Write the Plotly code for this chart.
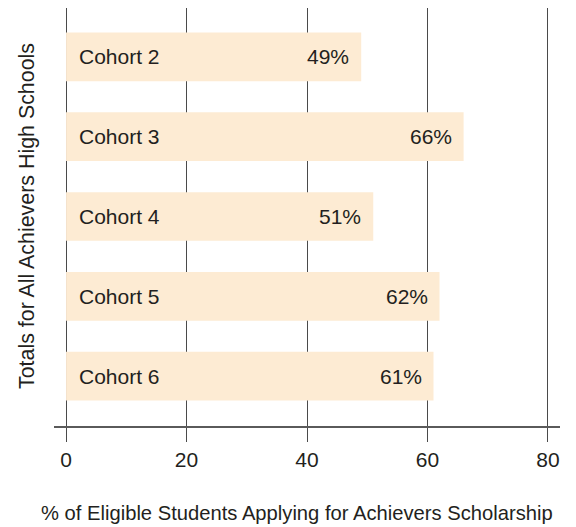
import plotly.graph_objects as go

cohorts = ["Cohort 2", "Cohort 3", "Cohort 4", "Cohort 5", "Cohort 6"]
values = [49, 66, 51, 62, 61]
x_ticks = [0, 20, 40, 60, 80]
x_title = "% of Eligible Students Applying for Achievers Scholarship"
y_title = "Totals for All Achievers High Schools"

FONT = "Liberation Sans, Arial, sans-serif"
TXT = "#231f20"
FL = 21

fig = go.Figure()
fig.add_trace(go.Bar(
    x=values, y=cohorts, orientation="h",
    marker=dict(color="#FDEBD3", line=dict(width=0)),
    width=0.61, hoverinfo="skip",
))

for c, v in zip(cohorts, values):
    fig.add_annotation(x=0, y=c, text=c, xanchor="left", xshift=11,
                       showarrow=False, font=dict(family=FONT, size=FL, color=TXT))
    fig.add_annotation(x=v, y=c, text=f"{v}%", xanchor="right", xshift=-10,
                       showarrow=False, font=dict(family=FONT, size=FL, color=TXT))

fig.add_annotation(xref="paper", yref="paper", x=0, y=0.5, xshift=-27, yshift=1,
                   text=y_title, textangle=-90, showarrow=False,
                   xanchor="center", yanchor="middle",
                   font=dict(family=FONT, size=21.4, color=TXT))
fig.add_annotation(xref="paper", yref="paper", x=0.5, y=0, xshift=-10, yshift=-87,
                   text=x_title, showarrow=False,
                   xanchor="center", yanchor="middle",
                   font=dict(family=FONT, size=20.2, color=TXT))

fig.update_layout(
    width=568, height=519,
    margin=dict(l=46, r=15.5, t=0, b=101, autoexpand=False),
    paper_bgcolor="white", plot_bgcolor="white",
    showlegend=False,
    font=dict(family=FONT, size=20, color=TXT),
    xaxis=dict(
        range=[-2, 82], tickvals=x_ticks, ticktext=[str(t) for t in x_ticks],
        showgrid=True, gridcolor="#4a4a4a", gridwidth=1.2,
        zeroline=False, showline=True, linecolor="#5a5a5a", linewidth=2,
        ticks="outside", ticklen=14, tickcolor="#4a4a4a", tickwidth=1.2,
        tickfont=dict(size=FL, color=TXT), automargin=False,
    ),
    yaxis=dict(
        type="category", categoryorder="array", categoryarray=cohorts,
        range=[4.625, -0.6125], showticklabels=False, showgrid=False,
        zeroline=False, showline=False, ticks="", automargin=False,
    ),
)

fig.write_html("out.html")
